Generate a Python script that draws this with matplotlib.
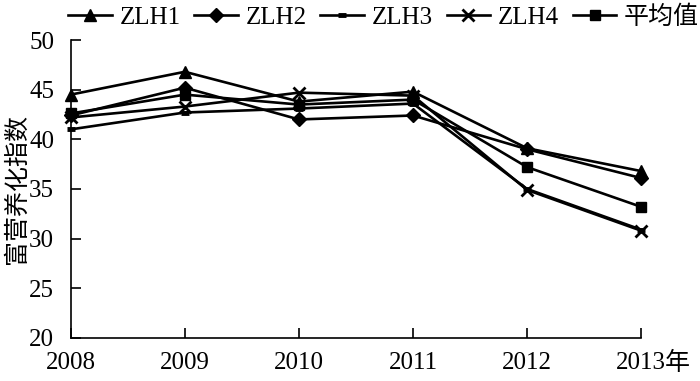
import matplotlib
matplotlib.use("Agg")
import matplotlib.pyplot as plt

plt.rcParams['font.family'] = ['Liberation Serif', 'Noto Sans CJK SC']

years = [2008, 2009, 2010, 2011, 2012, 2013]
zlh1 = [44.5, 46.8, 43.8, 44.8, 39.1, 36.8]
zlh2 = [42.4, 45.2, 42.0, 42.4, 39.0, 36.1]
zlh3 = [41.0, 42.7, 43.1, 43.6, 35.0, 30.9]
zlh4 = [42.2, 43.3, 44.7, 44.4, 34.9, 30.8]
avg = [42.6, 44.5, 43.5, 44.0, 37.2, 33.2]

names = ['ZLH1', 'ZLH2', 'ZLH3', 'ZLH4', '平均值']
series = [zlh1, zlh2, zlh3, zlh4, avg]
markers = ['^', 'D', '_', 'x', 's']
msizes = [9, 7, 6, 9, 7.5]
medges = [1, 1, 3.5, 2, 1]

fig = plt.figure(figsize=(7, 3.81), dpi=100)
ax = fig.add_axes([0.101, 0.113, 0.815, 0.782])

for name, vals, m, ms, mew in zip(names, series, markers, msizes, medges):
    ax.plot(years, vals, color='black', lw=1.9, marker=m, markersize=ms,
            markeredgewidth=mew, label=name, clip_on=False)

ax.set_xlim(2008, 2013)
ax.set_ylim(20, 50)
ax.set_yticks([20, 25, 30, 35, 40, 45, 50])
ax.set_xticks(years)
ax.spines['top'].set_visible(False)
ax.spines['right'].set_visible(False)
ax.spines['left'].set_linewidth(1.2)
ax.spines['bottom'].set_linewidth(1.2)
ax.tick_params(direction='in', length=7, width=1.2, labelsize=18)
ax.tick_params(axis='x', pad=10)
ax.tick_params(axis='y', pad=12)

ax.annotate('年', xy=(2013, 20), xycoords='data', xytext=(17, -10),
            textcoords='offset points', fontsize=18, va='top', ha='left',
            annotation_clip=False)

ax.set_ylabel('富营养化指数', fontsize=18, labelpad=0)

fig.legend(loc='center', bbox_to_anchor=(0.548, 0.955), ncol=5, frameon=False,
           fontsize=18, handlelength=1.75, handletextpad=0.3, columnspacing=0.55,
           borderaxespad=0)

fig.savefig('out.png', dpi=100)
